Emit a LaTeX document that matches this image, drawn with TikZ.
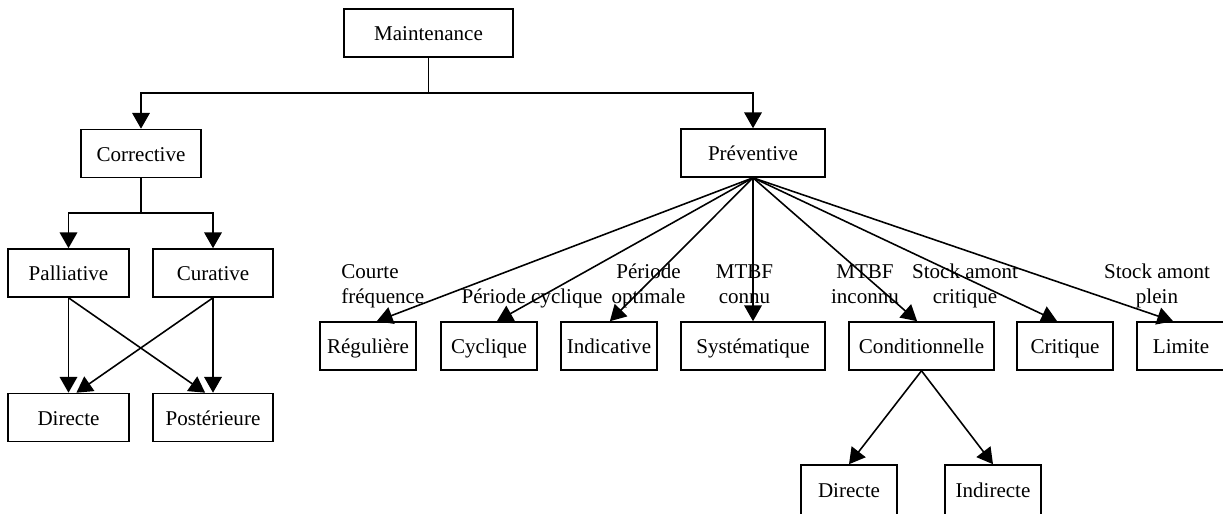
\documentclass[tikz,border=0pt]{standalone}
\usepackage{fontspec}
\setmainfont{Liberation Serif}
\usetikzlibrary{arrows.meta}

\begin{document}
\begin{tikzpicture}[x=0.57pt, y=-0.57pt,
                    box/.style={draw, line width=0.9pt, inner sep=0pt, text height=10pt, text depth=1.2pt,
                                minimum width=#1*0.57pt, minimum height=48*0.57pt},
                    arr/.style={line width=0.9pt, -{Triangle[length=9pt, width=10pt]}},
                    lbl/.style={align=center, inner sep=0pt, anchor=north}]
\fontsize{12}{14.25}\selectfont
\useasboundingbox (0,0) rectangle (1223,513);

\node[box=169] (maint) at (428.5,33) {Maintenance};
\node[box=120] (corr) at (141,153.5) {Corrective};
\node[box=144] (prev) at (753,153) {Préventive};

\node[box=121] (pall) at (68.5,273) {Palliative};
\node[box=120] (cura) at (213,273) {Curative};
\node[box=121] (dirA) at (68.5,417.5) {Directe};
\node[box=120] (post) at (213,417.5) {Postérieure};

\node[box=96] (reg) at (368,346) {Régulière};
\node[box=96] (cyc) at (489,346) {Cyclique};
\node[box=96] (ind) at (609,346) {Indicative};
\node[box=144] (sys) at (753,346) {Systématique};
\node[box=145] (cond) at (921.5,346) {Conditionnelle};
\node[box=96] (crit) at (1065,346) {Critique};
\node[box=88] (lim) at (1181,346) {Limite};
\node[box=96, minimum height=50*0.57pt] (dirB) at (849,490) {Directe};
\node[box=96, minimum height=50*0.57pt] (indir) at (993,490) {Indirecte};

\node[lbl, align=left, anchor=north west] (lCourte) at (341,264) {Courte\\fréquence};
\node[lbl, anchor=center] (lCycl) at (532,298) {Période cyclique};
\node[lbl] (lOpt) at (648.5,264) {Période\\optimale};
\node[lbl] (lConnu) at (744.5,264) {MTBF\\connu};
\node[lbl] (lInconnu) at (865,264) {MTBF\\inconnu};
\node[lbl] (lCrit) at (965,264) {Stock amont\\critique};
\node[lbl] (lPlein) at (1157,264) {Stock amont\\plein};

\coordinate (fork) at (428.5,93);
\draw[line width=0.9pt] (maint.south) -- (fork);
\draw[arr] (fork) -| (corr.north);
\draw[arr] (fork) -| (prev.north);

\coordinate (fork2) at (141,213);
\draw[line width=0.9pt] (corr.south) -- (fork2);
\draw[arr] (fork2) -| (pall.north);
\draw[arr] (fork2) -| (cura.north);

\draw[arr] (pall.south) -- (dirA.north);
\draw[arr] (pall.south) -- ([xshift=-4.5pt]post.north);
\draw[arr] (cura.south) -- (post.north);
\draw[arr] (cura.south) -- ([xshift=4.5pt]dirA.north);

\foreach \n/\s in {reg/5, cyc/4.5, ind/0.5, sys/0, cond/-2.5, crit/-4.5, lim/-4.5}
    \draw[arr] (prev.south) -- ([xshift=\s pt]\n.north);

\draw[arr] (cond.south) -- (dirB.north);
\draw[arr] (cond.south) -- (indir.north);
\end{tikzpicture}
\end{document}
